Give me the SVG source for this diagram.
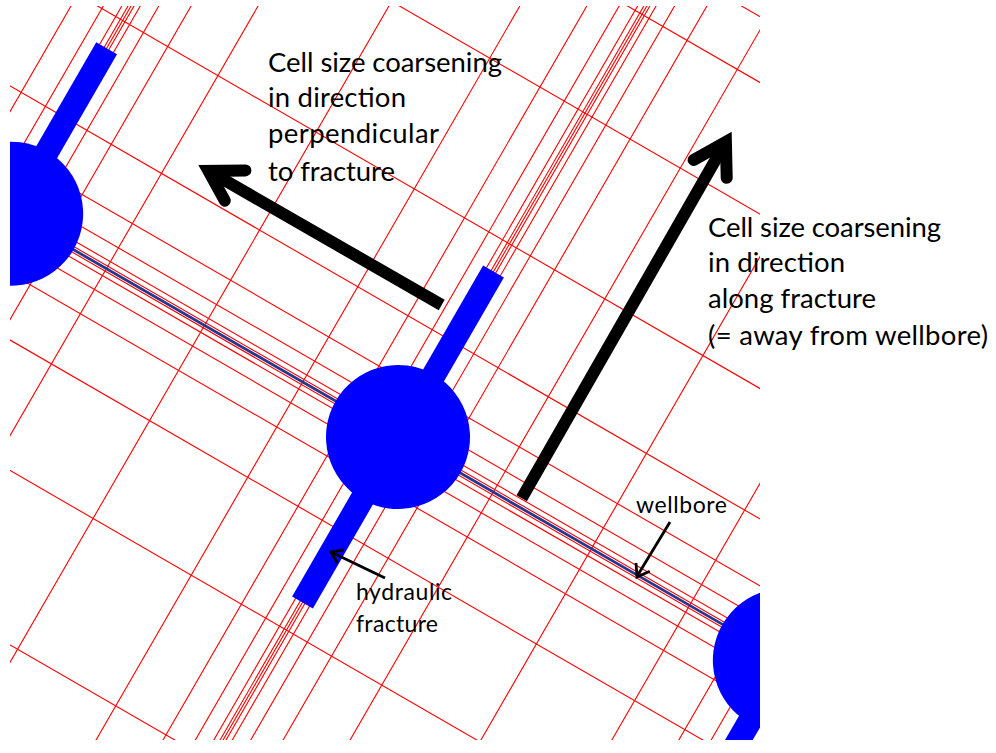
<svg xmlns="http://www.w3.org/2000/svg" width="996" height="753" viewBox="0 0 996 753">
<defs>
<clipPath id="frame"><rect x="10" y="6" width="750" height="734"/></clipPath>
<style>
.grid{fill:none;stroke:#ff0000;stroke-width:1.1}
.wb{fill:none;stroke:#26378f;stroke-width:2.8}
.blue{fill:#0000ff}
.shaft{fill:none;stroke:#000;stroke-width:12;stroke-linecap:butt}
.head{fill:none;stroke:#000;stroke-width:12;stroke-linecap:round;stroke-linejoin:miter}
.thin{fill:none;stroke:#000;stroke-width:2.8;stroke-linejoin:miter;stroke-linecap:butt}
.lbl{font-family:Lato,'Open Sans',sans-serif;fill:#000}
.t1{font-size:27.5px}
.t2{font-size:23px}
</style>
</defs>
<rect width="996" height="753" fill="#ffffff"/>
<g clip-path="url(#frame)">
<g id="grid" transform="translate(398 437) rotate(30)">
<path class="grid" d="M-556.7-1300V1300M-498.7-1300V1300M-470.7-1300V1300M-454.7-1300V1300M-449.3-1300V1300M-446.7-1300V1300M-444.1-1300V1300M-438.7-1300V1300M-422.7-1300V1300M-394.7-1300V1300M-336.7-1300V1300M-223.35-1300V1300M-110-1300V1300M-52-1300V1300M-24-1300V1300M-8-1300V1300M-2.6-1300V1300M0-1300V1300M2.6-1300V1300M8-1300V1300M24-1300V1300M52-1300V1300M110-1300V1300M223.35-1300V1300M336.7-1300V1300M394.7-1300V1300M422.7-1300V1300M438.7-1300V1300M444.1-1300V1300M446.7-1300V1300M449.3-1300V1300M454.7-1300V1300M470.7-1300V1300M498.7-1300V1300M556.7-1300V1300"/>
<path class="grid" d="M-1300-545H1300M-1300-488H1300M-1300-374H1300M-1300-223H1300M-1300-110H1300M-1300-52H1300M-1300-24H1300M-1300-8H1300M-1300-2.8H1300M-1300 2.8H1300M-1300 8H1300M-1300 24H1300M-1300 52H1300M-1300 110H1300M-1300 223H1300M-1300 374H1300"/>
<line id="wellbore" class="wb" x1="-1300" y1="0" x2="1300" y2="0"/>
</g>
<g transform="translate(398 437) rotate(30)">
<g id="well-left"><circle class="blue" cx="-446.7" cy="0" r="72"/><rect class="blue" x="-458.7" y="-191" width="24" height="382"/></g>
<g id="well-center"><circle class="blue" cx="0" cy="0" r="72"/><rect class="blue" x="-12" y="-191" width="24" height="382"/></g>
<g id="well-right"><circle class="blue" cx="446.7" cy="0" r="72"/><rect class="blue" x="434.7" y="-191" width="24" height="382"/></g>
</g>
</g>
<g id="connectors">
<g id="arrow-perpendicular">
<path class="shaft" d="M441.7,305 L208.4,170.9"/>
<path class="head" d="M245.4,170.4 L208.4,170.9 L224.8,200.7"/>
</g>
<g id="arrow-along">
<path class="shaft" d="M521.7,498.3 L725.9,141.8"/>
<path class="head" d="M693.6,159.9 L725.9,141.8 L726.7,177.8"/>
</g>
<g id="arrow-fracture">
<path class="thin" d="M385,578 L332,552.5"/>
<path class="thin" d="M343.8,549.9 L331,552 L337.4,563.3"/>
</g>
<g id="arrow-wellbore">
<path class="thin" d="M670,522 L637.5,575.5"/>
<path class="thin" d="M636,563 L637,577 L649.8,571.3"/>
</g>
</g>
<g id="labels" class="lbl">
<g id="label-perpendicular" class="t1">
<text x="268" y="72" textLength="234">Cell size coarsening</text>
<text x="268" y="107" textLength="138">in direction</text>
<text x="268" y="143" textLength="171">perpendicular</text>
<text x="268" y="181" textLength="127">to fracture</text>
</g>
<g id="label-along" class="t1">
<text x="708" y="237" textLength="233">Cell size coarsening</text>
<text x="708" y="272" textLength="137">in direction</text>
<text x="708" y="308" textLength="168">along fracture</text>
<text x="708" y="345" textLength="280">(= away from wellbore)</text>
</g>
<g id="label-wellbore" class="t2">
<text x="636" y="513" textLength="91">wellbore</text>
</g>
<g id="label-fracture" class="t2">
<text x="356" y="600" textLength="96">hydraulic</text>
<text x="356" y="632" textLength="82">fracture</text>
</g>
</g>
</svg>
